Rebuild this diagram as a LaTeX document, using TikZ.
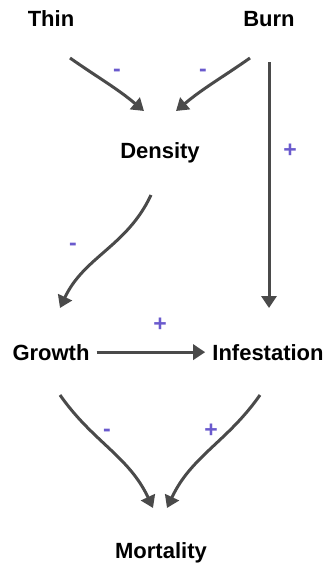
\documentclass[tikz,border=0pt]{standalone}
\usepackage{fontspec}
\setmainfont{Liberation Sans}
\usetikzlibrary{arrows.meta}
\definecolor{link}{HTML}{4A4A4A}
\definecolor{sign}{HTML}{6A5ACD}

\begin{document}
\begin{tikzpicture}[
  x=1pt, y=-1pt,
  every node/.style={font=\fontsize{22}{26}\selectfont},
  var/.style={font=\fontsize{22}{26}\selectfont\bfseries, anchor=base, inner sep=3pt},
  arr/.style={-{Triangle[length=12pt,width=15pt]}, line width=3pt, draw=link},
  sgn/.style={text=sign, font=\fontsize{23}{26}\selectfont\bfseries, inner sep=1pt},
]
  \useasboundingbox (0,0) rectangle (331,571);

  % Variables
  \node[var] (thin) at (51,26)  {Thin};
  \node[var] (burn) at (269,26) {Burn};
  \node[var] (dens) at (160,158) {Density};
  \node[var] (grow) at (51,360) {Growth};
  \node[var] (inf)  at (268,360) {Infestation};
  \node[var] (mort) at (161,558) {Mortality};

  % Causal links
  \draw[arr] ([shift={(19,32)}]thin.base) to[out=-35, in=140]
    ([shift={(-16,-47)}]dens.base);
  \draw[arr] ([shift={(-19,32)}]burn.base) to[out=-145, in=40]
    ([shift={(16,-47)}]dens.base);
  \draw[arr] ([shift={(0,36)}]burn.base) -- ([shift={(1,-52)}]inf.base);
  \draw[arr] ([shift={(-9,37)}]dens.base) to[out=-115, in=65]
    ([shift={(9,-52)}]grow.base);
  \draw[arr, shorten <=4pt, shorten >=4pt] (grow.east) -- (inf.west);
  \draw[arr] ([shift={(9,35)}]grow.base) to[out=-55, in=115]
    ([shift={(-8,-50)}]mort.base);
  \draw[arr] ([shift={(-8,35)}]inf.base) to[out=-125, in=65]
    ([shift={(6,-50)}]mort.base);

  % Signs
  \node[sgn] (s1) at (117,73)  {-};
  \node[sgn] (s2) at (203,73)  {-};
  \node[sgn] (s3) at (290,151) {+};
  \node[sgn] (s4) at (73,247)  {-};
  \node[sgn] (s5) at (160,325) {+};
  \node[sgn] (s6) at (107,433) {-};
  \node[sgn] (s7) at (211,431) {+};
\end{tikzpicture}
\end{document}
